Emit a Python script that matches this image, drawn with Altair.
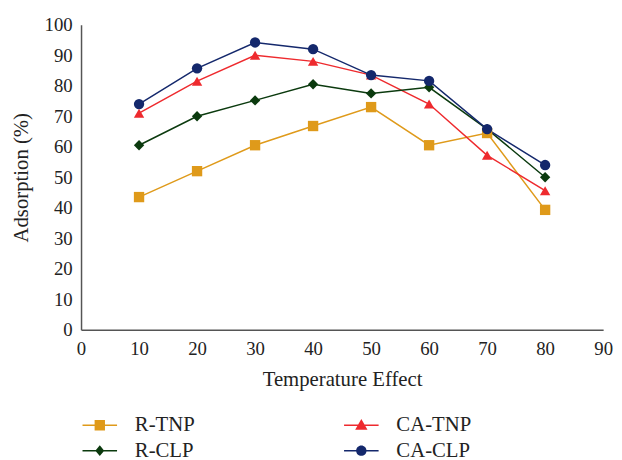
import altair as alt
import pandas as pd

temps = [10, 20, 30, 40, 50, 60, 70, 80]
r_tnp = [43.5, 52.0, 60.5, 66.8, 73.0, 60.5, 64.5, 39.3]
ca_tnp = [71.0, 81.5, 90.0, 88.0, 83.5, 74.0, 57.2, 45.6]
r_clp = [60.5, 70.0, 75.2, 80.5, 77.5, 79.5, 65.8, 50.0]
ca_clp = [74.0, 85.7, 94.2, 92.0, 83.5, 81.6, 65.8, 54.0]

series = ["R-TNP", "CA-TNP", "R-CLP", "CA-CLP"]
# legend / scale order (legend fills column by column)
legend_order = ["R-TNP", "R-CLP", "CA-TNP", "CA-CLP"]
color_map = {"R-TNP": "#DF9A1A", "CA-TNP": "#EE2A2E", "R-CLP": "#0B3A0E", "CA-CLP": "#14286C"}
shape_map = {"R-TNP": "square", "CA-TNP": "triangle-up", "R-CLP": "diamond", "CA-CLP": "circle"}
x_ticks = list(range(0, 100, 10))
y_ticks = list(range(0, 110, 10))

# legend symbols: short line with the marker in the middle
line_part = "M-3.5,-0.15H3.5V0.15H-3.5Z "
legend_path_map = {
    "R-TNP": line_part + "M-1.05,-1.05H1.05V1.05H-1.05Z",
    "CA-TNP": line_part + "M0,-1.25L1.25,0.9L-1.25,0.9Z",
    "R-CLP": line_part + "M0,-1.1L0.9,0L0,1.1L-0.9,0Z",
    "CA-CLP": line_part + "M0,-1.05A1.05,1.05 0 1,1 0,1.05A1.05,1.05 0 1,1 0,-1.05Z",
}

rows = []
for name, vals in zip(series, [r_tnp, ca_tnp, r_clp, ca_clp]):
    for t, v in zip(temps, vals):
        rows.append({"temp": t, "value": v, "series": name})
df = pd.DataFrame(rows)

FONT = "Liberation Serif"

x = alt.X("temp:Q", scale=alt.Scale(domain=[0, 90], nice=False),
          axis=alt.Axis(values=x_ticks, title="Temperature Effect", labelPadding=10,
                        titlePadding=11, labelFlush=False))
y = alt.Y("value:Q", scale=alt.Scale(domain=[0, 100], nice=False),
          axis=alt.Axis(values=y_ticks, title="Adsorption (%)", labelPadding=9,
                        titlePadding=13, labelFlush=False))

cscale = alt.Scale(domain=legend_order, range=[color_map[s] for s in legend_order])

base = alt.Chart(df)

lines = base.mark_line(strokeWidth=1.5).encode(
    x=x, y=y, color=alt.Color("series:N", scale=cscale, legend=None)
)

points = base.mark_point(filled=True, opacity=1, size=110).encode(
    x=x, y=y,
    color=alt.Color("series:N", scale=cscale, legend=None),
    shape=alt.Shape("series:N",
                    scale=alt.Scale(domain=legend_order, range=[shape_map[s] for s in legend_order]),
                    legend=None),
)

leg = alt.Legend(
    title=None, orient="none", legendX=8.5, legendY=395, columns=2,
    columnPadding=151, rowPadding=4, symbolSize=100, labelOffset=25,
    labelFont=FONT, labelFontSize=21, labelColor="#222222", padding=0,
    symbolStrokeWidth=0, symbolOpacity=1,
)

legend_layer = base.mark_point(filled=True, opacity=1).encode(
    x=x, y=y,
    color=alt.Color("series:N", scale=cscale, legend=leg),
    shape=alt.Shape("series:N",
                    scale=alt.Scale(domain=legend_order, range=[legend_path_map[s] for s in legend_order]),
                    legend=leg),
).transform_filter("datum.temp < 0")

chart = alt.layer(lines, points, legend_layer).resolve_scale(
    color="independent", shape="independent"
).properties(
    width=529, height=309,
    autosize=alt.AutoSizeParams(type="none"),
    padding={"left": 74, "top": 14, "right": 11, "bottom": 129},
).configure_view(stroke=None).configure_axis(
    grid=False, ticks=False, domainColor="#555555", domainWidth=1.5,
    labelFont=FONT, labelFontSize=19, labelColor="#222222",
    titleFont=FONT, titleFontSize=21, titleFontWeight="normal", titleColor="#222222",
)

chart.save("out.html", embed_options={"renderer": "svg", "actions": False})
